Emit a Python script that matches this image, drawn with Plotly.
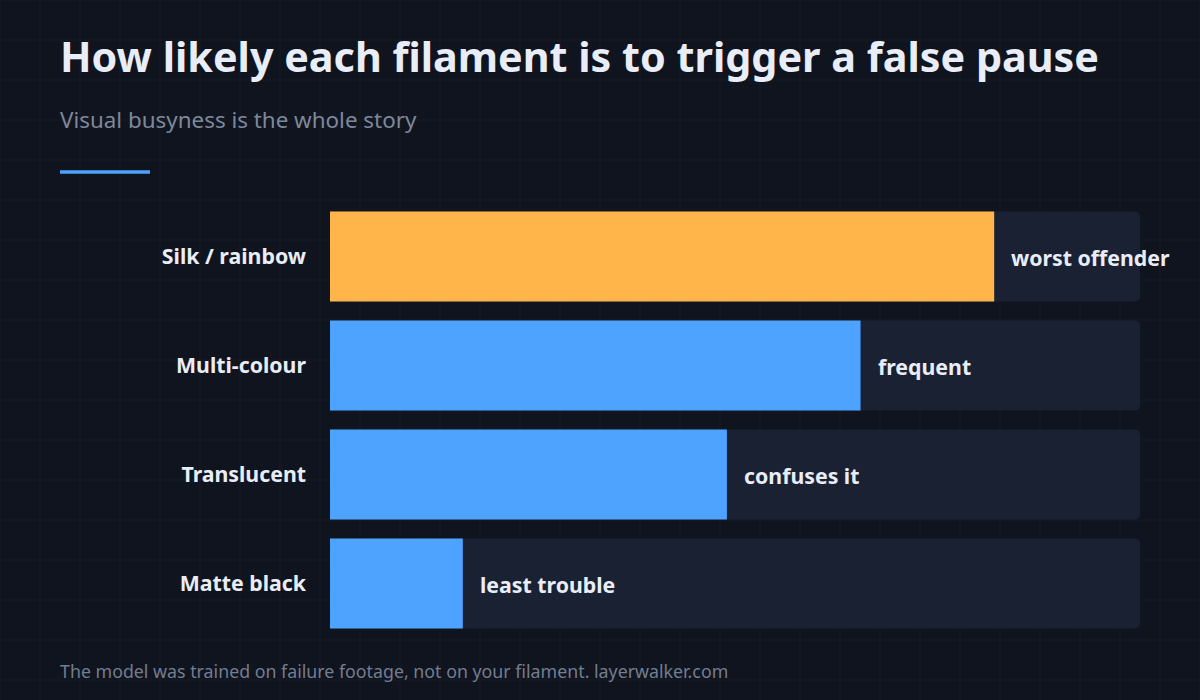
import plotly.graph_objects as go

categories = ["Silk / rainbow", "Multi-colour", "Translucent", "Matte black"]
values = [82, 65.5, 49, 16.4]
value_labels = ["worst offender", "frequent", "confuses it", "least trouble"]
track_max = 100
bar_colors = ["#FFB54A", "#4DA3FF", "#4DA3FF", "#4DA3FF"]

W_FIG, H_FIG = 1200, 700
ML, MR, MT, MB = 330, 60, 202, 62
PW = W_FIG - ML - MR
PH = H_FIG - MT - MB

def px_x(px):
    return (px - ML) / PW

def px_y(py):
    return 1 - (py - MT) / PH

BG = "#10141E"
FONT = "Noto Sans"

fig = go.Figure()
fig.add_trace(go.Bar(
    y=categories, x=[track_max] * len(categories), orientation="h",
    marker=dict(color="#1A2133", line=dict(width=0)),
    hoverinfo="skip", showlegend=False,
))
fig.add_trace(go.Bar(
    y=categories, x=values, orientation="h",
    marker=dict(color=bar_colors, line=dict(width=0)),
    showlegend=False,
))

for cat, v, lab in zip(categories, values, value_labels):
    fig.add_annotation(
        x=v, y=cat, xref="x", yref="y", text="<b>" + lab + "</b>",
        showarrow=False, xanchor="left", yanchor="middle", xshift=15, yshift=-1,
        font=dict(family=FONT, size=21.3, color="#E8EDF7"),
    )

shapes = []
for gx in range(0, W_FIG + 1, 40):
    shapes.append(dict(type="line", xref="paper", yref="paper",
                       x0=px_x(gx), x1=px_x(gx), y0=px_y(0), y1=px_y(H_FIG),
                       line=dict(color="rgba(255,255,255,0.035)", width=1), layer="below"))
for gy in range(0, H_FIG + 1, 40):
    shapes.append(dict(type="line", xref="paper", yref="paper",
                       x0=px_x(0), x1=px_x(W_FIG), y0=px_y(gy), y1=px_y(gy),
                       line=dict(color="rgba(255,255,255,0.035)", width=1), layer="below"))
shapes.append(dict(type="line", xref="paper", yref="paper",
                   x0=px_x(60), x1=px_x(150), y0=px_y(172), y1=px_y(172),
                   line=dict(color="#4DA3FF", width=3.5)))

fig.add_annotation(x=px_x(60), y=px_y(56), xref="paper", yref="paper",
                   text="<b>How likely each filament is to trigger a false pause</b>",
                   showarrow=False, xanchor="left", yanchor="middle", xshift=-2,
                   font=dict(family=FONT, size=41.3, color="#E8EDF7"))
fig.add_annotation(x=px_x(60), y=px_y(120), xref="paper", yref="paper",
                   text="Visual busyness is the whole story",
                   showarrow=False, xanchor="left", yanchor="middle", xshift=-2,
                   font=dict(family=FONT, size=22.4, color="#7E889C"))
fig.add_annotation(x=px_x(60), y=px_y(671), xref="paper", yref="paper",
                   text="The model was trained on failure footage, not on your filament. layerwalker.com",
                   showarrow=False, xanchor="left", yanchor="middle", xshift=-2,
                   font=dict(family=FONT, size=17.8, color="#737D91"))

fig.update_layout(
    width=W_FIG, height=H_FIG,
    paper_bgcolor=BG, plot_bgcolor="rgba(0,0,0,0)",
    margin=dict(l=ML, r=MR, t=MT, b=MB, pad=0),
    barmode="overlay", bargap=0.174, barcornerradius=5,
    shapes=shapes,
    xaxis=dict(range=[0, track_max], visible=False, fixedrange=True),
    yaxis=dict(autorange="reversed", showgrid=False, zeroline=False, showline=False,
               ticks="", ticklabelstandoff=23,
               tickfont=dict(family=FONT, size=21.3, color="#E8EDF7"),
               tickprefix="<b>", ticksuffix="</b>", fixedrange=True),
    font=dict(family=FONT),
)

fig.write_html(
    "out.html",
    config={"displayModeBar": False},
    post_script="document.body.style.margin='0';document.body.style.background='#10141E';",
)
